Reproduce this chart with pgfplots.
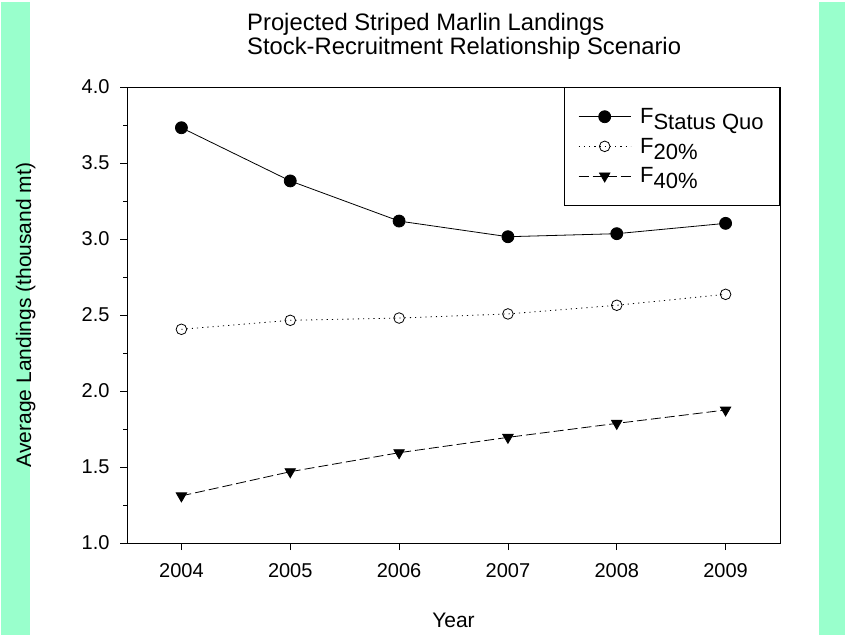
\documentclass[border=0pt]{standalone}
\usepackage{fontspec}
\setmainfont{Liberation Sans}
\usepackage{pgfplots}
\pgfplotsset{compat=1.18}
\definecolor{mint}{RGB}{153,255,204}
\begin{document}
\begin{tikzpicture}[x=1pt,y=1pt]
\useasboundingbox (0,0) rectangle (845,635);
\fill[mint] (1,0) rectangle (30,633);
\fill[mint] (819,0) rectangle (845,633);
\node[anchor=base west,inner sep=0pt,font=\fontsize{23.8}{26}\selectfont] at (247,604) {Projected Striped Marlin Landings};
\node[anchor=base west,inner sep=0pt,font=\fontsize{23.8}{26}\selectfont] at (247,580) {Stock-Recruitment Relationship Scenario};
\begin{axis}[
  at={(127pt,92pt)}, anchor=south west,
  scale only axis, width=653pt, height=456pt,
  xmin=2003.5, xmax=2009.5, ymin=1, ymax=4,
  xtick={2004,2005,2006,2007,2008,2009},
  xticklabels={2004,2005,2006,2007,2008,2009},
  ytick={1,1.5,2,2.5,3,3.5,4},
  yticklabel style={xshift=-7pt,/pgf/number format/.cd,fixed,fixed zerofill,precision=1},
  minor y tick num=1,
  tick align=outside, tick pos=left,
  major tick length=7pt, minor tick length=4pt,
  /pgf/number format/assume math mode=true,
  tick label style={font=\fontsize{20}{22}\selectfont},
  xticklabel style={yshift=-10pt},
  axis line style={line width=1pt}, every tick/.style={black,line width=0.8pt},
  xlabel={Year}, ylabel={Average Landings (thousand mt)},
  label style={font=\fontsize{21}{24}\selectfont},
  xlabel style={at={(axis description cs:0.5,-0.169)},anchor=center},
  ylabel style={at={(axis description cs:-0.155,0.5)},anchor=center},
  legend style={at={(1,1)},anchor=north east,draw=black,line width=0.8pt,
    font=\fontsize{22}{24}\selectfont, inner xsep=14pt, inner ysep=19pt,
    row sep=9pt, cells={anchor=west}},
  legend image code/.code={
    \draw[#1] (0pt,0pt) -- (52pt,0pt);
    \draw[#1,solid] plot coordinates {(26pt,0pt)};},
]
\addplot[black,line width=0.8pt,mark=*,mark size=6pt,mark options={solid,fill=black}] coordinates {
(2004,3.732) (2005,3.382) (2006,3.118) (2007,3.015) (2008,3.035) (2009,3.103)};
\addlegendentry{\hspace*{7pt}F\raisebox{-6pt}{Status Quo}}
\addplot[black,line width=0.8pt,dash pattern=on 1.2pt off 4pt,mark=o,mark size=5.3pt,mark options={solid,fill=white}] coordinates {
(2004,2.406) (2005,2.465) (2006,2.480) (2007,2.507) (2008,2.564) (2009,2.636)};
\addlegendentry{\hspace*{7pt}F\raisebox{-6pt}{20\%}}
\addplot[black,line width=0.8pt,dash pattern=on 10pt off 4pt,mark=triangle*,mark size=6pt,mark options={solid,rotate=180,fill=black}] coordinates {
(2004,1.31) (2005,1.469) (2006,1.594) (2007,1.695) (2008,1.787) (2009,1.875)};
\addlegendentry{\hspace*{7pt}F\raisebox{-6pt}{40\%}}
\end{axis}
\end{tikzpicture}
\end{document}
